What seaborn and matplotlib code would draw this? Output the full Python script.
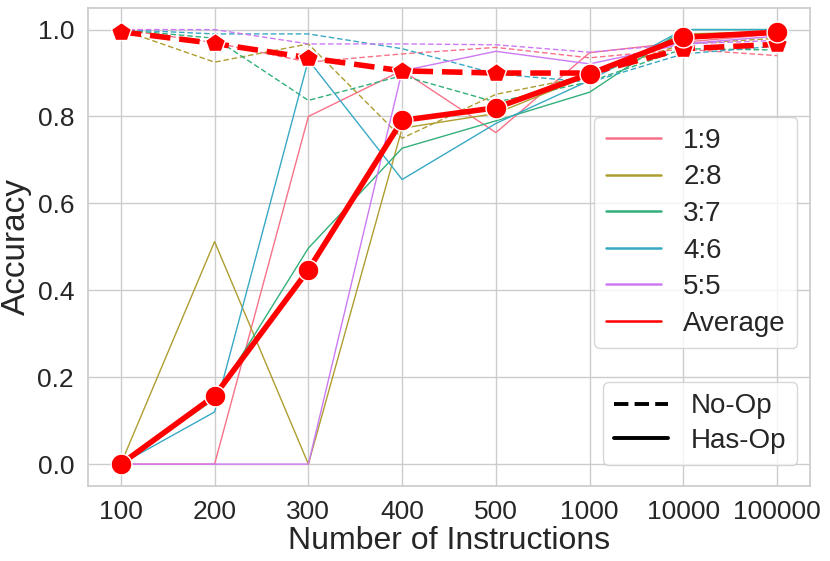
import numpy as np
import pandas as pd
import matplotlib
matplotlib.use("Agg")
import matplotlib.pyplot as plt
from matplotlib.lines import Line2D
import seaborn as sns

# 数据
x_labels = ["100", "200", "300", "400", "500", "1000", "10000", "100000"]
ratios = ["1:9", "2:8", "3:7", "4:6", "5:5"]

has_op = {
    "1:9": [0.0, 0.0, 0.80, 0.906, 0.763, 0.947, 0.971, 0.990],
    "2:8": [0.0, 0.512, 0.0, 0.773, 0.807, 0.895, 0.990, 0.995],
    "3:7": [0.0, 0.150, 0.497, 0.727, 0.790, 0.856, 1.000, 1.000],
    "4:6": [0.0, 0.120, 0.930, 0.655, 0.784, 0.883, 1.000, 1.000],
    "5:5": [0.0, 0.0, 0.0, 0.905, 0.950, 0.921, 0.967, 0.985],
}
no_op = {
    "1:9": [1.0, 0.970, 0.925, 0.944, 0.959, 0.935, 0.955, 0.940],
    "2:8": [1.0, 0.925, 0.967, 0.750, 0.851, 0.894, 0.967, 0.980],
    "3:7": [1.0, 0.980, 0.837, 0.894, 0.833, 0.880, 0.956, 0.953],
    "4:6": [1.0, 0.990, 0.990, 0.956, 0.898, 0.879, 0.944, 0.962],
    "5:5": [1.0, 1.000, 0.967, 0.967, 0.965, 0.948, 0.967, 0.975],
}
avg_has_op = [0.0, 0.157, 0.447, 0.791, 0.820, 0.898, 0.982, 0.994]
avg_no_op = [0.995, 0.968, 0.935, 0.905, 0.900, 0.900, 0.956, 0.966]

rows = []
for op_name, table in [("No-Op", no_op), ("Has-Op", has_op)]:
    for r in ratios:
        for x, v in zip(x_labels, table[r]):
            rows.append({"n": x, "acc": v, "ratio": r, "op": op_name})
df = pd.DataFrame(rows)

sns.set_theme(style="whitegrid")
plt.rcParams["font.family"] = ["Liberation Sans", "DejaVu Sans"]

fig = plt.figure(figsize=(8.3, 5.61), dpi=100)
ax = fig.add_axes([0.106, 0.134, 0.870, 0.852])

palette = sns.color_palette("husl", len(ratios))
sns.lineplot(data=df, x="n", y="acc", hue="ratio", style="op",
             hue_order=ratios, style_order=["No-Op", "Has-Op"],
             palette=palette, dashes={"No-Op": (4, 2), "Has-Op": ""},
             linewidth=1, legend=False, ax=ax, zorder=2)

sns.lineplot(x=x_labels, y=avg_no_op, color="red", linewidth=4, linestyle="--",
             marker="p", markersize=15, markeredgecolor="white",
             markeredgewidth=1, ax=ax, zorder=4)
sns.lineplot(x=x_labels, y=avg_has_op, color="red", linewidth=4,
             marker="o", markersize=15, markeredgecolor="white",
             markeredgewidth=1, ax=ax, zorder=5)

ax.set_xlabel("Number of Instructions", fontsize=23, color="#262626", labelpad=2)
ax.set_ylabel("Accuracy", fontsize=24, color="#262626", labelpad=4)
ax.tick_params(axis="both", labelsize=19, colors="#262626", pad=4)
ax.set_yticks([0.0, 0.2, 0.4, 0.6, 0.8, 1.0])
ax.set_ylim(-0.05, 1.05)

# 颜色图例
color_handles = [Line2D([0], [0], color=c, lw=1.8) for c in palette]
color_handles.append(Line2D([0], [0], color="red", lw=1.8))
leg1 = ax.legend(color_handles, ratios + ["Average"], loc="upper right",
                 bbox_to_anchor=(0.982, 0.772), fontsize=20, frameon=True,
                 borderaxespad=0, handlelength=2.0, handletextpad=0.8,
                 labelspacing=0.38)
ax.add_artist(leg1)

# 线型图例
style_handles = [Line2D([0], [0], color="black", lw=2.8, linestyle="--"),
                 Line2D([0], [0], color="black", lw=2.8)]
ax.legend(style_handles, ["No-Op", "Has-Op"], loc="lower right",
          bbox_to_anchor=(0.982, 0.044), fontsize=20, frameon=True,
          borderaxespad=0, handlelength=1.95, handletextpad=0.8,
          labelspacing=0.3)

fig.savefig("out.png", dpi=100)
